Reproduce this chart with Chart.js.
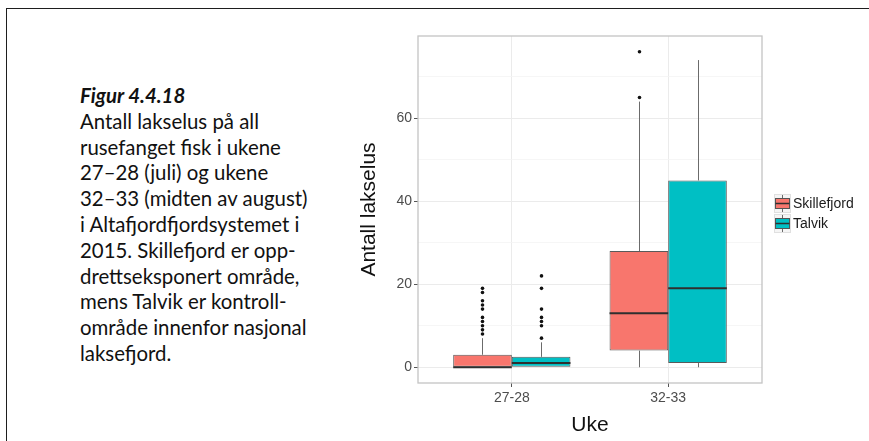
<!DOCTYPE html>
<html lang="no">
<head>
<meta charset="utf-8">
<title>Antall lakselus</title>
<script src="https://cdn.jsdelivr.net/npm/chart.js@4.4.1/dist/chart.umd.min.js"></script>
<style>
  html, body { margin: 0; padding: 0; background: #fff; overflow: hidden; }
  body { width: 869px; height: 441px; position: relative; }
  .frame {
    position: absolute; left: 6px; top: 8px; width: 900px; height: 500px;
    border-left: 1.5px solid #1e1e1e; border-top: 1.5px solid #1e1e1e;
  }
  .caption {
    position: absolute; left: 80px; top: 83px; width: 260px;
    font-family: Lato, "Open Sans", sans-serif; font-size: 20.4px; line-height: 25.8px;
    color: #111;
  }
  .caption b { font-style: italic; font-weight: 700; }
  #chart { position: absolute; left: 0; top: 0; }
</style>
</head>
<body>
<div class="frame"></div>
<div class="caption">
  <b>Figur 4.4.18</b><br>
  Antall lakselus på all<br>
  rusefanget fisk i ukene<br>
  27–28 (juli) og ukene<br>
  32–33 (midten av august)<br>
  i Altafjordfjordsystemet i<br>
  2015. Skillefjord er opp-<br>
  drettseksponert område,<br>
  mens Talvik er kontroll-<br>
  område innenfor nasjonal<br>
  laksefjord.
</div>
<canvas id="chart" width="869" height="441"></canvas>

<script>
// uker (x) og områder (serier)
const weeks = ['27-28', '32-33'];
const sites = ['Skillefjord', 'Talvik'];
const siteColors = ['#F8766D', '#00BFC4'];

// boksplott-statistikk per uke: nedre/øvre whisker, kvartiler og median
const skillefjordLow = [0, 0];
const skillefjordQ1 = [0, 4];
const skillefjordMedian = [0, 13];
const skillefjordQ3 = [3, 28];
const skillefjordHigh = [7, 64];
const skillefjordOutliers = [[8, 9, 10, 11, 12, 14, 15, 16, 18, 19], [65, 76]];

const talvikLow = [0, 0];
const talvikQ1 = [0, 1];
const talvikMedian = [1, 19];
const talvikQ3 = [2.5, 45];
const talvikHigh = [6, 74];
const talvikOutliers = [[7, 10, 11, 12, 14, 19, 22], []];

const yMajor = [0, 20, 40, 60];
const yMinor = [10, 30, 50, 70];

const stats = [
  { low: skillefjordLow, q1: skillefjordQ1, med: skillefjordMedian, q3: skillefjordQ3, high: skillefjordHigh, out: skillefjordOutliers },
  { low: talvikLow, q1: talvikQ1, med: talvikMedian, q3: talvikQ3, high: talvikHigh, out: talvikOutliers }
];

const fontFamily = '"Liberation Sans", Arial, Helvetica, sans-serif';
Chart.defaults.font.family = fontFamily;

// whiskers, median og uteliggere tegnes oppå de flytende stolpene
const boxplotExtras = {
  id: 'boxplotExtras',
  afterDatasetsDraw(chart) {
    const ctx = chart.ctx;
    const y = chart.scales.y;
    ctx.save();
    stats.forEach((s, d) => {
      const meta = chart.getDatasetMeta(d);
      meta.data.forEach((bar, i) => {
        const cx = Math.round(bar.x) + 0.5;
        const half = bar.width / 2;
        ctx.strokeStyle = '#6b6b6b';
        ctx.lineWidth = 1;
        ctx.beginPath();
        ctx.moveTo(cx, y.getPixelForValue(s.q3[i]));
        ctx.lineTo(cx, y.getPixelForValue(s.high[i]));
        ctx.moveTo(cx, y.getPixelForValue(s.q1[i]));
        ctx.lineTo(cx, y.getPixelForValue(s.low[i]));
        ctx.stroke();

        ctx.strokeStyle = '#2f2f2f';
        ctx.lineWidth = 2;
        ctx.beginPath();
        const my = y.getPixelForValue(s.med[i]);
        ctx.moveTo(bar.x - half, my);
        ctx.lineTo(bar.x + half, my);
        ctx.stroke();

        ctx.fillStyle = '#111';
        s.out[i].forEach(v => {
          ctx.beginPath();
          ctx.arc(cx, y.getPixelForValue(v), 1.8, 0, Math.PI * 2);
          ctx.fill();
        });
      });
    });
    ctx.restore();
  },
  afterDraw(chart) {
    const ctx = chart.ctx;
    const a = chart.chartArea;
    ctx.save();
    // panelramme
    ctx.strokeStyle = '#c4c4c4';
    ctx.lineWidth = 1.3;
    ctx.strokeRect(a.left, a.top, a.right - a.left, a.bottom - a.top);

    // forklaring til høyre
    const kx = 774, ky = 194, kw = 17, kh = 19;
    ctx.font = '14px ' + fontFamily;
    ctx.textBaseline = 'middle';
    ctx.textAlign = 'left';
    sites.forEach((name, i) => {
      const top = ky + i * (kh + 1);
      ctx.fillStyle = '#f5f5f5';
      ctx.fillRect(kx, top, kw, kh);
      ctx.strokeStyle = '#e0e0e0';
      ctx.lineWidth = 1;
      ctx.strokeRect(kx + 0.5, top + 0.5, kw - 1, kh - 1);
      const cx = kx + kw / 2;
      ctx.strokeStyle = '#6b6b6b';
      ctx.beginPath();
      ctx.moveTo(cx, top + 1);
      ctx.lineTo(cx, top + kh - 1);
      ctx.stroke();
      ctx.fillStyle = siteColors[i];
      ctx.fillRect(kx + 1.5, top + 4.5, kw - 3, kh - 9);
      ctx.strokeStyle = '#555';
      ctx.strokeRect(kx + 1.5, top + 4.5, kw - 3, kh - 9);
      ctx.strokeStyle = '#2f2f2f';
      ctx.lineWidth = 1.5;
      ctx.beginPath();
      ctx.moveTo(kx + 1.5, top + kh / 2);
      ctx.lineTo(kx + kw - 1.5, top + kh / 2);
      ctx.stroke();
      ctx.fillStyle = '#1a1a1a';
      ctx.fillText(name, kx + kw + 2, top + kh / 2 + 0.5);
    });
    ctx.restore();
  }
};

const datasets = stats.map((s, d) => ({
  label: sites[d],
  data: weeks.map((w, i) => ({ x: i + 1, y: [s.q1[i], s.q3[i]] })),
  backgroundColor: siteColors[d],
  borderColor: '#5a5a5a',
  borderWidth: 1,
  borderSkipped: false,
  categoryPercentage: 0.75,
  barPercentage: 1
}));

new Chart(document.getElementById('chart').getContext('2d'), {
  type: 'bar',
  data: { datasets },
  options: {
    responsive: false,
    animation: false,
    layout: { padding: { left: 345, top: 36, right: 107, bottom: 0 } },
    plugins: { legend: { display: false }, tooltip: { enabled: false } },
    scales: {
      x: {
        type: 'linear',
        min: 0.4,
        max: 2.6,
        offset: false,
        afterBuildTicks: (scale) => { scale.ticks = weeks.map((w, i) => ({ value: i + 1 })); },
        afterFit: (scale) => { scale.height = 58; },
        grid: { offset: false, color: '#ebebeb', lineWidth: 1, tickLength: 4, tickColor: '#555' },
        border: { display: false },
        ticks: {
          color: '#4d4d4d', font: { size: 14 }, padding: 3, maxRotation: 0,
          callback: (v) => weeks[v - 1]
        },
        title: { display: true, text: 'Uke', color: '#111', font: { size: 21 }, padding: { top: 0, bottom: 3 } }
      },
      y: {
        type: 'linear',
        min: -3.8,
        max: 79.8,
        afterBuildTicks: (scale) => {
          scale.ticks = yMajor.concat(yMinor).sort((a, b) => a - b).map(v => ({ value: v }));
        },
        afterFit: (scale) => { scale.width = 73; },
        grid: {
          color: (c) => yMajor.includes(c.tick.value) ? '#ebebeb' : '#f4f4f4',
          lineWidth: (c) => yMajor.includes(c.tick.value) ? 1 : 0.8,
          tickLength: 4,
          tickColor: (c) => yMajor.includes(c.tick.value) ? '#555' : 'rgba(0,0,0,0)'
        },
        border: { display: false },
        ticks: {
          color: '#4d4d4d', font: { size: 14 }, padding: 2,
          callback: (v) => yMajor.includes(v) ? String(v) : ''
        },
        title: { display: true, text: 'Antall lakselus', color: '#111', font: { size: 21 }, padding: { top: 12, bottom: 0 } }
      }
    }
  },
  plugins: [boxplotExtras]
});
</script>
</body>
</html>
